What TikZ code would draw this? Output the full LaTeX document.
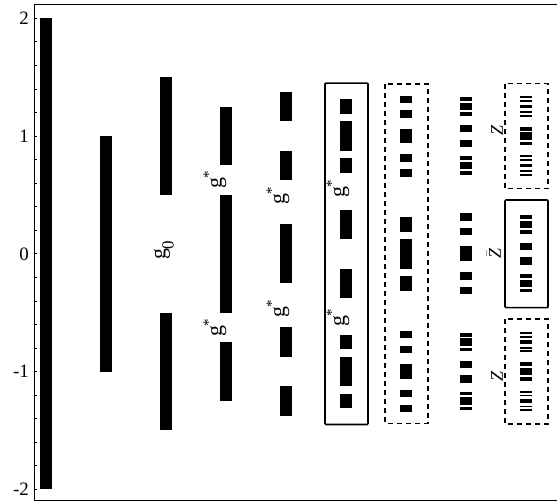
\documentclass[tikz,border=0pt]{standalone}
\usepackage{fontspec}
\setmainfont{Liberation Serif}
\newcommand\Cone{0/2}
\newcommand\Ctwo{0/1}
\newcommand\Cthree{1/0.5,-1/0.5}
\newcommand\Cfour{1/0.25,0/0.5,-1/0.25}
\newcommand\Cfive{1.25/0.125,0.75/0.125,0/0.25,-0.75/0.125,-1.25/0.125}
\newcommand\Csix{1.25/0.0625,1/0.125,0.75/0.0625,0.25/0.125,-0.25/0.125,-0.75/0.0625,-1/0.125,-1.25/0.0625}
\newcommand\Cseven{1.3125/0.03125,1.1875/0.03125,1/0.0625,0.8125/0.03125,0.6875/0.03125,0.25/0.0625,0/0.125,-0.25/0.0625,-0.6875/0.03125,-0.8125/0.03125,-1/0.0625,-1.1875/0.03125,-1.3125/0.03125}
% #1 x centre, #2 scale, #3 offset, #4 list of centre/halfwidth
\newcommand\colbars[4]{\foreach \c/\h in #4 {\fill[black] ({#1-6},{#3+#2*(\c-\h)}) rectangle ({#1+6},{#3+#2*(\c+\h)});}}
\newcommand\gstar{g\kern-0.05em\raisebox{0.38em}{\fontsize{15}{15}\selectfont *}}
\begin{document}
\begin{tikzpicture}[x=1bp,y=117.75bp,
  solidbox/.style={draw=black,line width=1.6bp,rounded corners=1bp},
  dashbox/.style={draw=black,line width=1.6bp,dash pattern=on 5bp off 4bp},
  frameline/.style={draw=black,line width=1bp},
  tickline/.style={draw=black,line width=0.8bp},
  lab/.style={font=\fontsize{22}{22}\selectfont,rotate=90,inner sep=0pt},
  zlab/.style={font=\fontsize{18}{18}\selectfont,rotate=90,inner sep=0pt},
  ticklab/.style={font=\fontsize{19}{19}\selectfont,anchor=east,inner sep=0pt}]
\useasboundingbox (0,-2.1248) rectangle (557,2.1554);
% frame
\draw[frameline] (557,2.113) -- (34,2.113) -- (34,-2.095) -- (557,-2.095);
\foreach \i in {0,...,20} \draw[tickline] (34,{-2+0.2*\i}) -- (37,{-2+0.2*\i});
\foreach \v/\n in {2/ta,1/tb,0/tc,-1/td,-2/te} \node[ticklab] (\n) at (29,\v) {\v};
% columns
\colbars{46.3}{1}{0}{\Cone}
\colbars{106.3}{1}{0}{\Ctwo}
\colbars{166.3}{1}{0}{\Cthree}
\colbars{226.3}{1}{0}{\Cfour}
\colbars{286.3}{1}{0}{\Cfive}
\colbars{346.3}{1}{0}{\Csix}
\colbars{406.3}{1}{0}{\Cseven}
\colbars{466.3}{0.25}{1}{\Csix}
\colbars{466.3}{0.25}{0}{\Cfive}
\colbars{466.3}{0.25}{-1}{\Csix}
\colbars{526.3}{0.25}{1}{\Cseven}
\colbars{526.3}{0.25}{0}{\Csix}
\colbars{526.3}{0.25}{-1}{\Cseven}
% boxes
\draw[solidbox] (325,1.45) rectangle (368,-1.45);
\draw[dashbox] (385,1.44) rectangle (428,-1.44);
\draw[dashbox] (505,1.446) rectangle (548,0.554);
\draw[solidbox] (505,0.457) rectangle (548,-0.457);
\draw[dashbox] (505,-0.554) rectangle (548,-1.446);
% labels
\node[lab] (g0) at (164,0.03) {g\raisebox{-0.38em}{\fontsize{17}{17}\selectfont 0}};
\node[lab] (ga) at (215,0.627) {\gstar};
\node[lab] (gb) at (215,-0.63) {\gstar};
\node[lab] (gc) at (278,0.49) {\gstar};
\node[lab] (gd) at (278,-0.47) {\gstar};
\node[lab] (ge) at (338,0.55) {\gstar};
\node[lab] (gf) at (338,-0.545) {\gstar};
\node[zlab] (za) at (497,1.05) {\textit{Z}};
\node[zlab] (zb) at (494,0) {$\bar{\textit{Z}}$};
\node[zlab] (zc) at (497,-1.04) {\textit{Z}};
\end{tikzpicture}
\end{document}
